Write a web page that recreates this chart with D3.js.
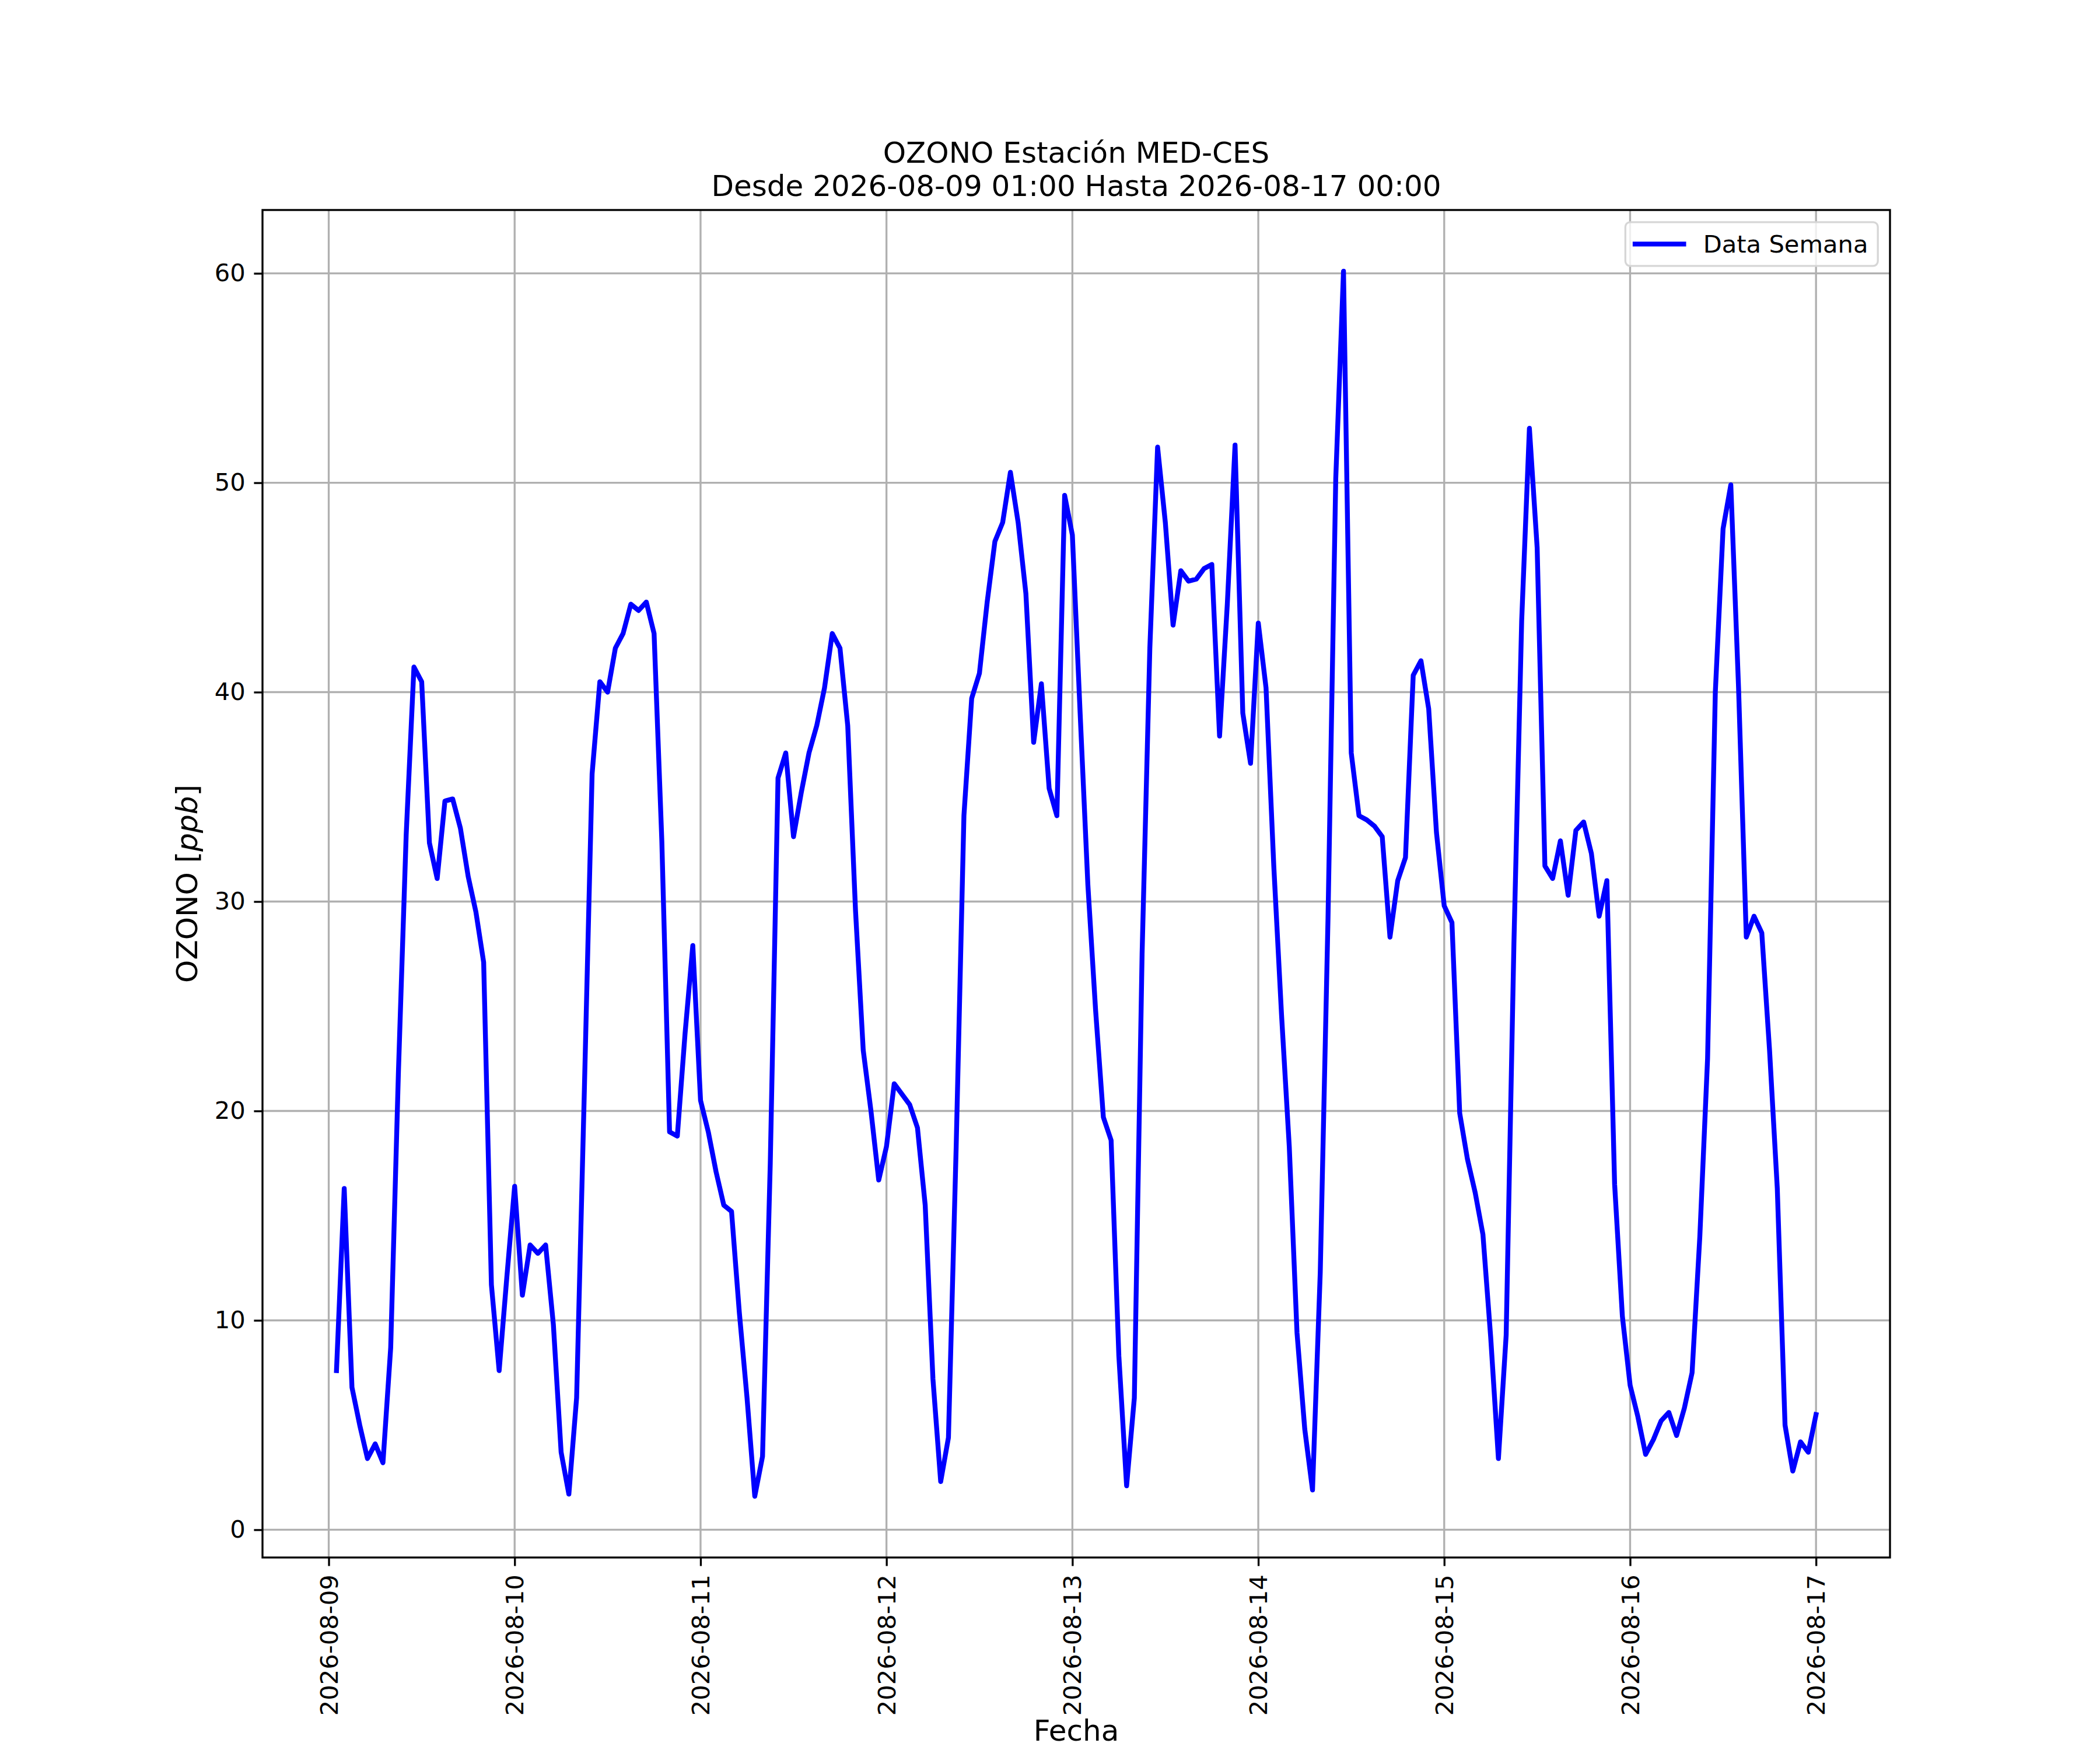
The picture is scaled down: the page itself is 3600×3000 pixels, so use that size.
<!DOCTYPE html>
<html>
<head>
<meta charset="utf-8">
<script src="https://cdn.jsdelivr.net/npm/d3@7"></script>
<style>
  body { margin: 0; background: #fff; }
  text { font-family: "DejaVu Sans", sans-serif; }
</style>
</head>
<body>
<svg id="chart"></svg>
<script>
// hourly ozone readings (ppb), first reading 2026-08-09 01:00
const startTime = "2026-08-09T01:00:00Z";
const day09 = [7.6, 16.3, 6.8, 5.0, 3.4, 4.1, 3.2, 8.7, 21.9, 33.2, 41.2, 40.5, 32.8, 31.1, 34.8, 34.9, 33.5, 31.2, 29.5, 27.1, 11.7, 7.6, 12.1, 16.4];
const day10 = [11.2, 13.6, 13.2, 13.6, 9.8, 3.7, 1.7, 6.3, 21.0, 36.1, 40.5, 40.0, 42.1, 42.8, 44.2, 43.9, 44.3, 42.8, 32.9, 19.0, 18.8, 23.7, 27.9, 20.5];
const day11 = [19.0, 17.1, 15.5, 15.2, 10.4, 6.3, 1.6, 3.5, 17.5, 35.9, 37.1, 33.1, 35.2, 37.1, 38.4, 40.2, 42.8, 42.1, 38.4, 29.6, 22.9, 20.0, 16.7, 18.3];
const day12 = [21.3, 20.8, 20.3, 19.2, 15.5, 7.2, 2.3, 4.4, 18.3, 34.1, 39.7, 40.9, 44.3, 47.2, 48.1, 50.5, 48.1, 44.7, 37.6, 40.4, 35.4, 34.1, 49.4, 47.5];
const day13 = [39.0, 30.8, 24.8, 19.7, 18.6, 8.3, 2.1, 6.3, 27.5, 42.1, 51.7, 48.1, 43.2, 45.8, 45.3, 45.4, 45.9, 46.1, 37.9, 44.2, 51.8, 39.0, 36.6, 43.3];
const day14 = [40.2, 31.7, 24.6, 18.3, 9.4, 4.8, 1.9, 12.3, 29.2, 50.2, 60.1, 37.1, 34.1, 33.9, 33.6, 33.1, 28.3, 31.0, 32.1, 40.8, 41.5, 39.2, 33.3, 29.8];
const day15 = [29.0, 19.9, 17.7, 16.1, 14.1, 9.2, 3.4, 9.3, 28.0, 43.4, 52.6, 46.9, 31.7, 31.1, 32.9, 30.3, 33.4, 33.8, 32.3, 29.3, 31.0, 16.5, 10.2, 6.9];
const day16 = [5.4, 3.6, 4.3, 5.2, 5.6, 4.5, 5.8, 7.5, 14.0, 22.5, 40.0, 47.8, 49.9, 40.2, 28.3, 29.3, 28.5, 22.9, 16.3, 5.0, 2.8, 4.2, 3.7, 5.5];
const yTicks = [0, 10, 20, 30, 40, 50, 60];
const xTickDays = ["2026-08-09", "2026-08-10", "2026-08-11", "2026-08-12", "2026-08-13", "2026-08-14", "2026-08-15", "2026-08-16", "2026-08-17"];

const values = [].concat(day09, day10, day11, day12, day13, day14, day15, day16);
const t0 = new Date(startTime);
const data = values.map((v, i) => ({ date: d3.utcHour.offset(t0, i), value: v }));

const width = 3600;
const height = 3000;
const margin = { left: 450, right: 360, top: 360, bottom: 330 };
const pt = 300 / 72; // matplotlib points at 300 dpi
const tickFont = 10 * pt;
const labelFont = 12 * pt;
const lineW = 2 * pt;

const svg = d3.select("#chart")
    .attr("width", width)
    .attr("height", height);

svg.append("rect").attr("width", width).attr("height", height).attr("fill", "#fff");

// 5% padding on both axes, like matplotlib's autoscale
const xExt = d3.extent(data, d => +d.date);
const xPad = (xExt[1] - xExt[0]) * 0.05;
const yExt = d3.extent(data, d => d.value);
const yPad = (yExt[1] - yExt[0]) * 0.05;

const x = d3.scaleUtc()
    .domain([new Date(xExt[0] - xPad), new Date(xExt[1] + xPad)])
    .range([margin.left, width - margin.right]);

const y = d3.scaleLinear()
    .domain([yExt[0] - yPad, yExt[1] + yPad])
    .range([height - margin.bottom, margin.top]);

const tickDates = xTickDays.map(s => new Date(s + "T00:00:00Z"));

// grid
const grid = svg.append("g").attr("stroke", "#b0b0b0").attr("stroke-width", 0.8 * pt);
grid.selectAll("line.gx")
    .data(tickDates)
    .enter().append("line")
    .attr("x1", d => x(d)).attr("x2", d => x(d))
    .attr("y1", margin.top).attr("y2", height - margin.bottom);
grid.selectAll("line.gy")
    .data(yTicks)
    .enter().append("line")
    .attr("x1", margin.left).attr("x2", width - margin.right)
    .attr("y1", d => y(d)).attr("y2", d => y(d));

// series
const line = d3.line()
    .x(d => x(d.date))
    .y(d => y(d.value));

svg.append("path")
    .datum(data)
    .attr("d", line)
    .attr("fill", "none")
    .attr("stroke", "#0000ff")
    .attr("stroke-width", lineW)
    .attr("stroke-linejoin", "round")
    .attr("stroke-linecap", "square");

// axes
const xAxis = svg.append("g")
    .attr("transform", `translate(0,${height - margin.bottom})`)
    .call(d3.axisBottom(x)
        .tickValues(tickDates)
        .tickFormat(d3.utcFormat("%Y-%m-%d"))
        .tickSize(3.5 * pt)
        .tickPadding(3.5 * pt));

xAxis.selectAll("text")
    .attr("transform", "rotate(-90)")
    .attr("y", 0)
    .attr("x", -7 * pt)
    .attr("dy", "0.35em")
    .attr("text-anchor", "end");

const yAxis = svg.append("g")
    .attr("transform", `translate(${margin.left},0)`)
    .call(d3.axisLeft(y)
        .tickValues(yTicks)
        .tickFormat(d3.format("d"))
        .tickSize(3.5 * pt)
        .tickPadding(3.5 * pt));

[xAxis, yAxis].forEach(g => {
    g.select(".domain").remove();
    g.selectAll("line").attr("stroke", "#000").attr("stroke-width", 0.8 * pt);
    g.selectAll("text")
        .attr("fill", "#000")
        .style("font-family", "DejaVu Sans")
        .style("font-size", tickFont + "px");
});

// frame
svg.append("rect")
    .attr("x", margin.left)
    .attr("y", margin.top)
    .attr("width", width - margin.left - margin.right)
    .attr("height", height - margin.top - margin.bottom)
    .attr("fill", "none")
    .attr("stroke", "#000")
    .attr("stroke-width", 0.8 * pt);

// titles and labels
const cx = (margin.left + width - margin.right) / 2;
svg.append("text")
    .attr("x", cx).attr("y", 279)
    .attr("text-anchor", "middle")
    .style("font-size", labelFont + "px")
    .text("OZONO Estación MED-CES");
svg.append("text")
    .attr("x", cx).attr("y", 336)
    .attr("text-anchor", "middle")
    .style("font-size", labelFont + "px")
    .text("Desde 2026-08-09 01:00 Hasta 2026-08-17 00:00");

svg.append("text")
    .attr("x", cx).attr("y", 2984)
    .attr("text-anchor", "middle")
    .style("font-size", labelFont + "px")
    .text("Fecha");

const yLabel = svg.append("text")
    .attr("transform", `translate(338,${(margin.top + height - margin.bottom) / 2}) rotate(-90)`)
    .attr("text-anchor", "middle")
    .style("font-size", labelFont + "px");
yLabel.append("tspan").text("OZONO [");
yLabel.append("tspan").style("font-style", "italic").text("ppb");
yLabel.append("tspan").text("]");

// legend, upper right
const legend = svg.append("g");
const lgRight = width - margin.right - 0.5 * tickFont;
const lgTop = margin.top + 0.5 * tickFont;
const lgText = legend.append("text")
    .style("font-size", tickFont + "px")
    .text("Data Semana");
const textW = lgText.node().getComputedTextLength();
const boxW = 0.4 * tickFont * 2 + 2.0 * tickFont + 0.8 * tickFont + textW;
const boxH = 0.4 * tickFont * 2 + tickFont * 1.0;
const lgLeft = lgRight - boxW;
legend.insert("rect", "text")
    .attr("x", lgLeft).attr("y", lgTop)
    .attr("width", boxW).attr("height", boxH)
    .attr("rx", 8).attr("ry", 8)
    .attr("fill", "rgba(255,255,255,0.8)")
    .attr("stroke", "#d6d6d6")
    .attr("stroke-width", 0.8 * pt);
const lineY = lgTop + boxH / 2;
legend.append("line")
    .attr("x1", lgLeft + 0.4 * tickFont).attr("x2", lgLeft + 0.4 * tickFont + 2.0 * tickFont)
    .attr("y1", lineY).attr("y2", lineY)
    .attr("stroke", "#0000ff")
    .attr("stroke-width", lineW)
    .attr("stroke-linecap", "square");
lgText.attr("x", lgLeft + 0.4 * tickFont + 2.8 * tickFont)
    .attr("y", lineY)
    .attr("dy", "0.35em");
</script>
</body>
</html>
